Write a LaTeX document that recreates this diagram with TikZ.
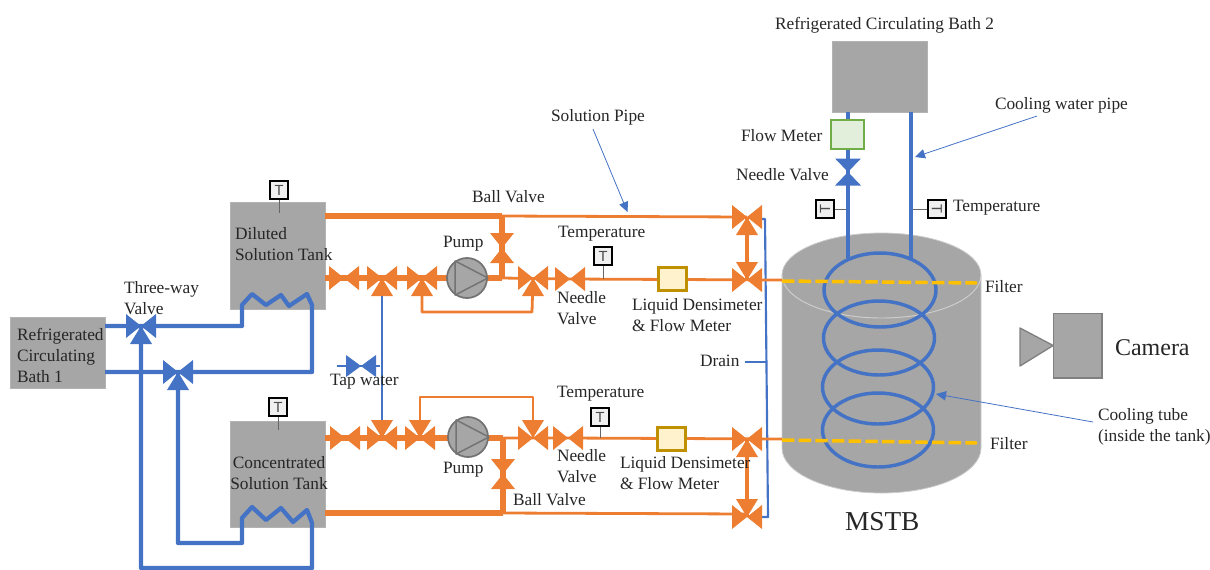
\documentclass[tikz,border=0pt]{standalone}
\usepackage{fontspec}
\usetikzlibrary{arrows.meta}
\setmainfont{Liberation Serif}
\newfontfamily\tsans{Liberation Sans}
\definecolor{pipeb}{HTML}{4472C4}
\definecolor{pipeo}{HTML}{ED7D31}
\definecolor{tankg}{HTML}{A6A6A6}
\definecolor{filtery}{HTML}{FFC000}
\definecolor{txt}{HTML}{262626}
\definecolor{metery}{HTML}{BF9000}
\definecolor{meteryf}{HTML}{FFF2CC}
\definecolor{meterg}{HTML}{70AD47}
\definecolor{metergf}{HTML}{E2EFDA}
\tikzset{
  x=0.75pt,y=-0.75pt,
  blk/.style={fill=tankg,draw=tankg!85!white,line width=0.6pt,inner sep=0,outer sep=0},
  lbl/.style={inner sep=0,outer sep=0,anchor=west,align=left,text=txt,font=\fontsize{13}{15.75}\selectfont},
  lblc/.style={lbl,anchor=center,align=center},
  btk/.style={draw=pipeb,line width=3.2pt,line join=round},
  btn/.style={draw=pipeb,line width=1.6pt,line join=round},
  otk/.style={draw=pipeo,line width=3.8pt,line join=round},
  otn/.style={draw=pipeo,line width=2.1pt,line join=round},
  tbox/.style={draw=black,fill=black!6,line width=1.4pt,minimum size=13pt,inner sep=0,text=black!70,font=\tsans\fontsize{11}{11}\selectfont},
  tlead/.style={draw=black!60,line width=0.7pt},
  meter/.style={line width=1.9pt,inner sep=0,minimum width=21pt,minimum height=17pt},
  pump/.style={circle,draw=black!55,fill=tankg,line width=1.3pt,minimum size=30pt,inner sep=0},
  callout/.style={draw=pipeb,line width=0.6pt,-{Triangle[length=7.5pt,width=7pt,fill=pipeb]}},
  filterline/.style={draw=filtery,line width=2.6pt,dash pattern=on 9.3pt off 3.2pt},
  pics/vh/.style={code={\path[pic actions] (-15,-12)--(15,12)--(15,-12)--(-15,12)--cycle;}},
  pics/vv/.style={code={\path[pic actions] (-12,-15)--(12,15)--(-12,15)--(12,-15)--cycle;}},
  pics/vdn/.style={code={\path[pic actions] (-15,-12)--(15,12)--(15,-12)--(-15,12)--cycle;
     \path[pic actions] (0,0)--(-11,18)--(11,18)--cycle;}},
  pics/vup/.style={code={\path[pic actions] (-15,-12)--(15,12)--(15,-12)--(-15,12)--cycle;
     \path[pic actions] (0,0)--(-11,-18)--(11,-18)--cycle;}},
}
\begin{document}
\begin{tikzpicture}
\useasboundingbox (0,0) rectangle (1210,569);
% ---- MSTB tank
\path[fill=tankg,draw=black!20,line width=0.6pt] (782,275) arc[x radius=99.5,y radius=42,start angle=180,end angle=360]
  -- (981,448) arc[x radius=99.5,y radius=45,start angle=0,end angle=180] -- cycle;
\draw[white!45!tankg,line width=0.7pt] (782,275) arc[x radius=99.5,y radius=43,start angle=180,end angle=0];
% ---- blocks
\node[blk,minimum width=71.25pt,minimum height=53.25pt] (bath1) at (57.5,352.5) {};
\node[blk,minimum width=71.25pt,minimum height=80.25pt] (dil) at (277.5,255.5) {};
\node[blk,minimum width=71.25pt,minimum height=79.5pt] (con) at (277.5,474) {};
\node[blk,minimum width=71.25pt,minimum height=53.25pt] (bath2) at (879.5,76.5) {};
% ---- coordinates
\coordinate (v1) at (141,326);
\coordinate (v2) at (178,372);
\coordinate (vtap) at (361,366);
\coordinate (tapL) at (337,366);
\coordinate (tapR) at (380,366);
\coordinate (d1) at (344,278);
\coordinate (d2) at (382,278);
\coordinate (d3) at (422,278);
\coordinate (d4) at (533,278);
\coordinate (d5) at (570,279);
\coordinate (db) at (502,248);
\coordinate (dj) at (502,216);
\coordinate (dj2) at (502,278);
\coordinate (dtop) at (747,217);
\coordinate (dlow) at (747,280);
\coordinate (tankA) at (782,280);
\coordinate (c1) at (345,438);
\coordinate (c2) at (382,438);
\coordinate (c3) at (420,438);
\coordinate (c4) at (533,438);
\coordinate (c5) at (568,438);
\coordinate (cb) at (503,474);
\coordinate (cj) at (503,513);
\coordinate (cin) at (747,514);
\coordinate (cj2) at (503,438);
\coordinate (ctop) at (747,439);
\coordinate (cbot) at (747,517);
\coordinate (tankB) at (782,439);
\coordinate (dr1) at (765,219);
\coordinate (dr2) at (768,517);
\coordinate (dr3) at (766.5,362);
\coordinate (drL) at (745,362);
\coordinate (pL) at (848,258);
\coordinate (pR) at (911,258);
\coordinate (nv) at (848,172);
% ---- blue cooling water, left
\draw[btk] (105,326) -- (v1) -- (242,326) -- (242,305) -- (252,294) -- (266,305) -- (281,295) -- (289,306) -- (307,294) -- (312,305) -- (312,372) -- (v2) -- (105,372);
\draw[btk] (v1) -- (141,568) -- (312,568) -- (312,523) -- (307,510) -- (293,522) -- (281,508) -- (266,520) -- (252,507) -- (242,518) -- (242,543) -- (178,543) -- (v2);
\pic[fill=pipeb] at (v1) {vdn};
\pic[fill=pipeb] at (v2) {vdn};
% ---- tap water
\draw[btn] (tapL) -- (tapR);
\draw[btn] (d2) -- (c2);
\pic[fill=pipeb,yscale=0.92] at (vtap) {vh};
% ---- drain
\draw[btn] (761,219) -- (dr1) -- (dr2) -- (761,517);
\draw[btn] (drL) -- (dr3);
% ---- orange, upper line
\draw[otk,line width=4.2pt] (dil.east |- dj) -- (dj);
\draw[otn] (dj) -- (dtop);
\draw[otk] (dil.east |- d1) -- (dj2);
\draw[otk] (dj) -- (dj2);
\draw[otn] (dj2) -- (d5) -- (tankA);
\draw[otn] (d3) -- (422,312) -- (532,312) -- (d4);
\draw[otk,line width=2.6pt] (dtop) -- (dlow);
\pic[fill=pipeo] at (d1) {vh};
\pic[fill=pipeo] at (d2) {vdn};
\pic[fill=pipeo] at (d3) {vdn};
\pic[fill=pipeo] at (d4) {vdn};
\pic[fill=pipeo] at (d5) {vh};
\pic[fill=pipeo] at (db) {vv};
\pic[fill=pipeo] at (dtop) {vdn};
\pic[fill=pipeo] at (dlow) {vup};
\node[pump] (p1) at (467,278) {};
\draw[black!55,line width=1.1pt,line join=round] (p1.125) -- (p1.east) -- (p1.235) -- cycle;
\node[meter,draw=metery,fill=meteryf] (m1) at (672.5,279) {};
% ---- orange, lower line
\draw[otk] (con.east |- c1) -- (cj2);
\draw[otn] (cj2) -- (c5) -- (tankB);
\draw[otk,line width=4.2pt] (con.east |- cj) -- (cj);
\draw[otk] (cj2) -- (cj);
\draw[otn] (cj) -- (cin);
\draw[otn] (c3) -- (420,397) -- (533,397) -- (c4);
\draw[otk,line width=2.6pt] (ctop) -- (cbot);
\pic[fill=pipeo] at (c1) {vh};
\pic[fill=pipeo] at (c2) {vup};
\pic[fill=pipeo] at (c3) {vup};
\pic[fill=pipeo] at (c4) {vup};
\pic[fill=pipeo] at (c5) {vh};
\pic[fill=pipeo] at (cb) {vv};
\pic[fill=pipeo] at (ctop) {vdn};
\pic[fill=pipeo] at (cbot) {vup};
\node[pump] (p2) at (468,437) {};
\draw[black!55,line width=1.1pt,line join=round] (p2.125) -- (p2.east) -- (p2.235) -- cycle;
\node[meter,draw=metery,fill=meteryf] (m2) at (671.5,439) {};
% ---- T sensors
\node[tbox] (t1) at (279,190) {T};
\coordinate (t1e) at (279,213);
\draw[tlead] (t1) -- (t1e);
\node[tbox] (t2) at (278,407) {T};
\coordinate (t2e) at (278,430);
\draw[tlead] (t2) -- (t2e);
\node[tbox] (t3) at (603,256) {T};
\coordinate (t3e) at (603,279);
\draw[tlead] (t3) -- (t3e);
\node[tbox] (t4) at (600,417) {T};
\coordinate (t4e) at (600,438);
\draw[tlead] (t4) -- (t4e);
\coordinate (t5e) at (848,209);
\coordinate (t6e) at (911,209);
\node[tbox,rotate=90] (t5) at (825,209) {T};
\draw[tlead] (t5) -- (t5e);
\node[tbox,rotate=-90] (t6) at (937,209) {T};
\draw[tlead] (t6) -- (t6e);
% ---- blue coil
\draw[btk,line width=2.6pt] (880,290) ellipse[x radius=56,y radius=37];
\draw[btk,line width=2.6pt] (879,338) ellipse[x radius=55.5,y radius=37];
\draw[btk,line width=2.6pt] (878,387) ellipse[x radius=55.5,y radius=37];
\draw[btk,line width=2.6pt] (878,430) ellipse[x radius=55.5,y radius=37];
\draw[btk,line width=3.7pt] (bath2.south -| pL) -- (pL);
\draw[btk,line width=3.7pt] (bath2.south -| pR) -- (pR);
\node[meter,draw=meterg,fill=metergf,minimum width=25pt,minimum height=22pt] (fm) at (847.5,134.5) {};
\pic[fill=pipeb,xscale=1.08,yscale=0.9] at (nv) {vv};
% ---- filters
\draw[filterline] (782,281) -- (977,283);
\draw[filterline] (782,440) -- (977,443);
% ---- camera
\node[blk,draw=black!50,line width=1pt,minimum width=36.5pt,minimum height=48.5pt] (cam) at (1077.5,345.5) {};
\path[fill=tankg,draw=black!50,line width=1pt,line join=round] (1020,328) -- (1020,366) -- (cam.west) -- cycle;
% ---- callouts
\coordinate (a1s) at (593,129); \coordinate (a1t) at (627.5,212);
\draw[callout] (a1s) -- (a1t);
\coordinate (a2s) at (1037,116); \coordinate (a2t) at (915,157);
\draw[callout] (a2s) -- (a2t);
\coordinate (a3s) at (1093,422); \coordinate (a3t) at (936,394);
\draw[callout] (a3s) -- (a3t);
% ---- labels
\node[lbl] (l1) at (775,25) {Refrigerated Circulating Bath 2};
\node[lbl] (l2) at (995,105) {Cooling water pipe};
\node[lbl] (l3) at (741,136) {Flow Meter};
\node[lbl] (l4) at (736,175) {Needle Valve};
\node[lbl] (l5) at (953,208) {Temperature};
\node[lbl] (l6) at (985,287) {Filter};
\node[lbl] (l7) at (990,444) {Filter};
\node[lbl,font=\fontsize{18}{20}\selectfont] (l8) at (1115,348) {Camera};
\node[lbl,font=\fontsize{20.5}{22}\selectfont] (l9) at (845,522) {MSTB};
\node[lbl] (l10) at (124,298) {Three-way\\Valve};
\node[lbl] (l11) at (17,355.5) {Refrigerated\\Circulating\\Bath 1};
\node[lbl] (l12) at (235,244) {Diluted\\Solution Tank};
\node[lblc] (l13) at (279,473) {Concentrated\\Solution Tank};
\node[lbl] (l14) at (330,382) {Tap water};
\node[lbl] (l15) at (472,196.5) {Ball Valve};
\node[lbl] (l16) at (443,244) {Pump};
\node[lbl] (l17) at (443,470) {Pump};
\node[lbl] (l18) at (558,234) {Temperature};
\node[lbl] (l19) at (557,394) {Temperature};
\node[lbl] (l20) at (557,308.5) {Needle\\Valve};
\node[lbl] (l21) at (557,466) {Needle\\Valve};
\node[lbl] (l22) at (632,315.5) {Liquid Densimeter\\\& Flow Meter};
\node[lbl] (l23) at (620,473.5) {Liquid Densimeter\\\& Flow Meter};
\node[lbl] (l24) at (513,499.5) {Ball Valve};
\node[lbl] (l25) at (551,117) {Solution Pipe};
\node[lbl] (l26) at (700,360.5) {Drain};
\node[lbl] (l27) at (1098,426.5) {Cooling tube\\(inside the tank)};
\end{tikzpicture}
\end{document}
